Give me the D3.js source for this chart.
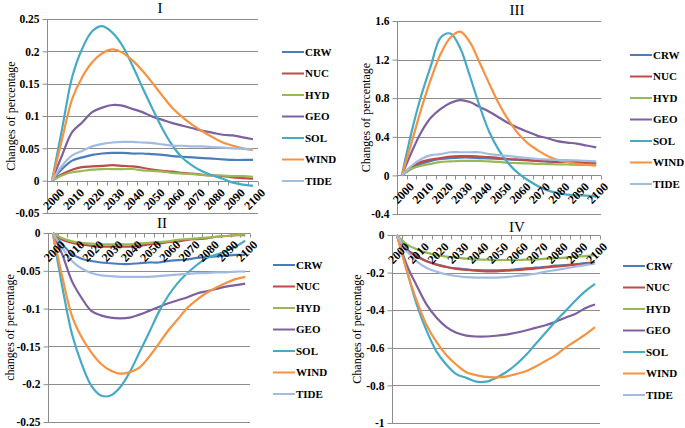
<!DOCTYPE html>
<html><head><meta charset="utf-8">
<script src="https://cdn.jsdelivr.net/npm/d3@7"></script>
<style>
html,body{margin:0;padding:0;background:#fff;}
svg{display:block;font-family:"Liberation Serif","Times New Roman",serif;}
</style></head>
<body><svg id="c" width="685" height="428"></svg>
<script>
// ---------- DATA ----------
const years = d3.range(2000, 2101, 5);
const yearLabels = ["2000","2010","2020","2030","2040","2050","2060","2070","2080","2090","2100"];
const seriesNames = ["CRW","NUC","HYD","GEO","SOL","WIND","TIDE"];
const seriesColors = ["#4A7EBB","#BE4B48","#98B954","#7D60A0","#46AAC5","#F69240","#A3BBE0"];

const panelTitles = ["I","II","III","IV"];
const yTitles = ["Changes of percentage","changes of percentage","Changes of percentage","Changes of percentage"];
const yTicksI = [-0.05,0,0.05,0.1,0.15,0.2,0.25];
const yTicksII = [-0.25,-0.2,-0.15,-0.1,-0.05,0];
const yTicksIII = [-0.4,0,0.4,0.8,1.2,1.6];
const yTicksIV = [-1,-0.8,-0.6,-0.4,-0.2,0];

// Panel I (rows in seriesNames order)
const valuesI = [
 [0,.018,.031,.036,.040,.042,.043,.043,.042,.042,.041,.040,.038,.037,.036,.035,.034,.033,.032,.032,.032],
 [0,.010,.017,.021,.022,.023,.024,.023,.022,.020,.017,.015,.014,.012,.011,.009,.008,.007,.005,.004,.003],
 [0,.008,.013,.015,.017,.018,.018,.018,.018,.016,.015,.014,.012,.011,.010,.009,.008,.008,.007,.007,.006],
 [0,.039,.075,.090,.106,.113,.117,.116,.111,.106,.099,.094,.089,.085,.081,.077,.074,.071,.070,.067,.064],
 [0,.080,.160,.204,.231,.239,.229,.209,.178,.144,.111,.080,.054,.035,.023,.014,.008,.003,-.003,-.006,-.008],
 [0,.064,.126,.160,.183,.197,.203,.198,.186,.170,.151,.131,.112,.098,.086,.076,.067,.059,.054,.050,.047],
 [0,.023,.039,.046,.053,.057,.059,.060,.060,.059,.058,.056,.054,.054,.053,.053,.052,.051,.050,.049,.048]
];
// Panel II
const valuesII = [
 [0,-.015,-.028,-.034,-.037,-.039,-.040,-.041,-.041,-.040,-.039,-.039,-.037,-.036,-.035,-.033,-.032,-.031,-.030,-.029,-.029],
 [0,-.009,-.013,-.015,-.017,-.018,-.018,-.018,-.018,-.017,-.015,-.014,-.012,-.011,-.009,-.008,-.007,-.005,-.004,-.003,-.003],
 [0,-.007,-.011,-.013,-.014,-.015,-.015,-.015,-.015,-.014,-.013,-.012,-.011,-.009,-.008,-.007,-.006,-.005,-.004,-.003,-.002],
 [0,-.029,-.064,-.086,-.103,-.109,-.112,-.113,-.112,-.108,-.103,-.098,-.093,-.089,-.085,-.080,-.077,-.074,-.071,-.069,-.067],
 [0,-.072,-.134,-.173,-.202,-.215,-.215,-.204,-.184,-.158,-.132,-.105,-.083,-.066,-.053,-.042,-.033,-.0285,-.024,-.018,-.010],
 [0,-.059,-.110,-.138,-.158,-.173,-.182,-.186,-.184,-.178,-.164,-.147,-.129,-.114,-.099,-.088,-.079,-.072,-.066,-.061,-.058],
 [0,-.020,-.037,-.047,-.053,-.056,-.057,-.058,-.058,-.058,-.058,-.057,-.056,-.055,-.054,-.053,-.053,-.052,-.052,-.051,-.051]
];
// Panel III
const valuesIII = [
 [0,.07,.12,.15,.17,.18,.185,.185,.18,.175,.17,.165,.16,.155,.15,.145,.14,.14,.135,.13,.13],
 [0,.09,.14,.165,.18,.195,.2,.2,.195,.19,.18,.17,.165,.16,.15,.145,.14,.14,.135,.13,.128],
 [0,.07,.10,.12,.14,.145,.15,.15,.15,.145,.14,.13,.128,.125,.12,.117,.114,.113,.11,.11,.11],
 [0,.24,.45,.60,.69,.75,.78,.76,.71,.66,.60,.54,.49,.45,.41,.385,.355,.34,.33,.31,.29],
 [0,.45,.83,1.14,1.43,1.47,1.32,1.03,.72,.45,.26,.12,.02,-.05,-.11,-.155,-.18,-.2,-.206,-.21,-.22],
 [0,.34,.69,1.0,1.26,1.43,1.49,1.38,1.17,.95,.74,.57,.43,.33,.26,.2,.16,.14,.12,.11,.10],
 [0,.10,.17,.21,.22,.24,.24,.24,.24,.22,.21,.20,.19,.18,.17,.165,.16,.158,.155,.15,.145]
];
// Panel IV
const valuesIV = [
 [0,-.076,-.11,-.14,-.156,-.17,-.178,-.183,-.187,-.188,-.188,-.187,-.183,-.178,-.174,-.17,-.163,-.16,-.156,-.15,-.147],
 [0,-.078,-.115,-.14,-.158,-.17,-.18,-.186,-.19,-.193,-.193,-.19,-.187,-.183,-.178,-.173,-.168,-.163,-.158,-.153,-.148],
 [0,-.05,-.076,-.094,-.107,-.115,-.12,-.126,-.13,-.131,-.133,-.133,-.133,-.131,-.13,-.126,-.124,-.12,-.115,-.112,-.107],
 [0,-.16,-.27,-.37,-.44,-.49,-.52,-.535,-.54,-.54,-.536,-.53,-.52,-.508,-.494,-.48,-.462,-.44,-.42,-.39,-.37],
 [0,-.19,-.37,-.51,-.62,-.69,-.74,-.76,-.78,-.78,-.76,-.73,-.69,-.64,-.58,-.52,-.46,-.405,-.35,-.30,-.26],
 [0,-.19,-.35,-.48,-.57,-.64,-.69,-.73,-.745,-.755,-.757,-.753,-.74,-.725,-.70,-.67,-.64,-.60,-.565,-.53,-.49],
 [0,-.085,-.14,-.175,-.195,-.21,-.218,-.224,-.227,-.227,-.227,-.224,-.218,-.213,-.206,-.195,-.187,-.178,-.169,-.16,-.153]
];

// ---------- LAYOUT ----------
const panels = [
 {values:valuesI,  ticks:yTicksI,  title:panelTitles[0], ytitle:yTitles[0], left:47,  right:258, top:19,  bottom:213, titleX:160, titleY:13,  ytx:11,  legX:282, legY:52},
 {values:valuesII, ticks:yTicksII, title:panelTitles[1], ytitle:yTitles[1], left:48,  right:250, top:233, bottom:422, titleX:162, titleY:228, ytx:10,  legX:273, legY:265},
 {values:valuesIII,ticks:yTicksIII,title:panelTitles[2], ytitle:yTitles[2], left:397, right:601, top:21,  bottom:214, titleX:517, titleY:15,  ytx:366, legX:630, legY:55},
 {values:valuesIV, ticks:yTicksIV, title:panelTitles[3], ytitle:yTitles[3], left:392, right:600, top:235, bottom:423, titleX:517, titleY:232, ytx:357, legX:623, legY:266}
];

const svg = d3.select("#c");
const grid = "#8C8C8C";
const fmt = d => (d===0 ? "0" : String(+d.toFixed(2)));

panels.forEach(p => {
  const g = svg.append("g");
  const x = d3.scaleBand().domain(years).range([p.left, p.right]);
  const y = d3.scaleLinear().domain([p.ticks[0], p.ticks[p.ticks.length-1]]).range([p.bottom, p.top]);
  const cx = d => x(d) + x.bandwidth()/2;

  // gridlines
  g.append("g").selectAll("line").data(p.ticks).join("line")
    .attr("x1", p.left).attr("x2", p.right)
    .attr("y1", d => Math.round(y(d))+0.5).attr("y2", d => Math.round(y(d))+0.5)
    .attr("stroke", grid).attr("stroke-width", 1);

  // y axis
  const ya = d3.axisLeft(y).tickValues(p.ticks).tickFormat(fmt).tickSize(5).tickPadding(3);
  const yg = g.append("g").attr("transform", `translate(${Math.round(p.left)+0.5},0)`).call(ya);
  yg.select(".domain").attr("stroke", grid).attr("d", `M0,${p.top}V${p.bottom}`);
  yg.selectAll(".tick line").attr("stroke", grid);
  yg.selectAll(".tick text").attr("font-size", 11.5).attr("font-weight","bold").attr("fill","#000")
    .attr("font-family",'"Liberation Serif",serif');

  // x axis at zero
  const y0 = Math.round(y(0))+0.5;
  const bounds = years.map(d => x(d)).concat([x(years[years.length-1]) + x.bandwidth()]);
  g.append("g").selectAll("line").data(bounds).join("line")
    .attr("x1", d => Math.round(d)+0.5).attr("x2", d => Math.round(d)+0.5)
    .attr("y1", y0).attr("y2", y0+4).attr("stroke", grid);
  g.append("line").attr("x1", p.left).attr("x2", p.right).attr("y1", y0).attr("y2", y0).attr("stroke", grid);

  // series lines
  const line = d3.line().x((d,i) => cx(years[i])).y(d => y(d)).curve(d3.curveCatmullRom.alpha(0.5));
  p.values.forEach((vals, si) => {
    g.append("path").attr("d", line(vals)).attr("fill","none")
      .attr("stroke", seriesColors[si]).attr("stroke-width", 2.2).attr("stroke-linejoin","round");
  });

  // x labels (rotated)
  g.append("g").selectAll("text").data(yearLabels).join("text")
    .attr("transform", d => `translate(${cx(+d)+7},${y0+6}) rotate(-45)`)
    .attr("text-anchor","end").attr("dy","0.7em")
    .attr("font-size", 12).attr("font-weight","bold").text(d => d);

  // title
  g.append("text").attr("x", p.titleX).attr("y", p.titleY).attr("text-anchor","middle")
    .attr("font-size", 15).text(p.title);

  // y title
  g.append("text").attr("transform", `translate(${p.ytx},${(p.top+p.bottom)/2}) rotate(-90)`)
    .attr("text-anchor","middle").attr("dy","0.35em").attr("font-size", 12).text(p.ytitle);

  // legend
  const lg = g.append("g");
  seriesNames.forEach((n, i) => {
    const ly = p.legY + i*21.5;
    lg.append("line").attr("x1", p.legX).attr("x2", p.legX+22).attr("y1", ly).attr("y2", ly)
      .attr("stroke", seriesColors[i]).attr("stroke-width", 2);
    lg.append("text").attr("x", p.legX+23).attr("y", ly).attr("dy","0.35em")
      .attr("font-size", 11).attr("font-weight","bold").text(n);
  });
});
</script></body></html>
